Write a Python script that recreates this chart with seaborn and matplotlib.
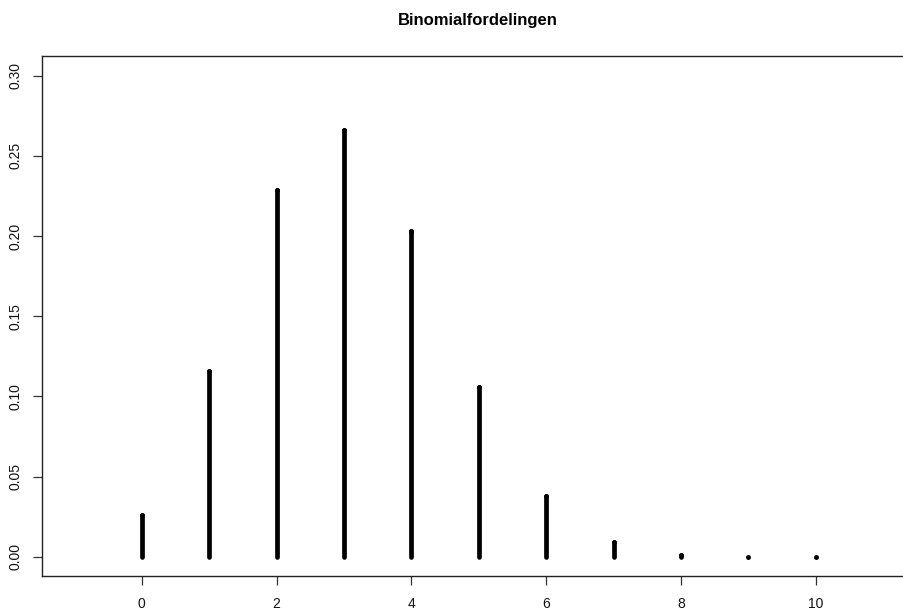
import matplotlib
matplotlib.use("Agg")
import matplotlib.pyplot as plt
import seaborn as sns
import pandas as pd

# Data
k_values = [0, 1, 2, 3, 4, 5, 6, 7, 8, 9, 10]
probabilities = [0.026, 0.116, 0.229, 0.266, 0.203, 0.106, 0.038, 0.009, 0.0014, 0.00014, 0.000006]
x_ticks = [0, 2, 4, 6, 8, 10]
y_ticks = [0.00, 0.05, 0.10, 0.15, 0.20, 0.25, 0.30]
y_tick_labels = ["0.00", "0.05", "0.10", "0.15", "0.20", "0.25", "0.30"]
title = "Binomialfordelingen"

sns.set_style("white")
plt.rcParams['font.family'] = ['Liberation Sans', 'DejaVu Sans']

rows = []
for k, p in zip(k_values, probabilities):
    rows.append({"k": k, "x": k, "y": 0.0})
    rows.append({"k": k, "x": k, "y": p})
df = pd.DataFrame(rows)
tops = pd.DataFrame({"x": k_values, "y": probabilities})

W, H = 904, 609
fig = plt.figure(figsize=(W / 100, H / 100), dpi=100)
left, right, top, bottom = 41.7, 915.5, 55.7, 576.0
ax = fig.add_axes([left / W, 1 - bottom / H, (right - left) / W, (bottom - top) / H])

lw = 3.4
sns.lineplot(data=df, x="x", y="y", units="k", estimator=None, sort=False,
             color="black", lw=lw, solid_capstyle="round", ax=ax, legend=False)
sns.scatterplot(data=tops, x="x", y="y", color="black", s=lw ** 2 * 1.1,
                marker="o", linewidth=0, ax=ax, legend=False, zorder=3)

ax.set_xlim(-1.484, 11.48)
ax.set_ylim(-0.012, 0.3125)
ax.set_xticks(x_ticks)
ax.set_xticklabels([str(t) for t in x_ticks])
ax.set_yticks(y_ticks)
ax.set_yticklabels(y_tick_labels)
ax.set_xlabel("")
ax.set_ylabel("")

for name, s in ax.spines.items():
    s.set_visible(name != "right")
    s.set_color("#222222")
    s.set_linewidth(1.0)

ax.tick_params(axis="both", which="major", direction="out", length=6.8, width=0.9,
               color="#333333", labelsize=10, labelcolor="#111111",
               bottom=True, left=True)
ax.tick_params(axis="x", pad=8)
ax.tick_params(axis="y", pad=7, labelrotation=90)
for lbl in ax.get_yticklabels():
    lbl.set_va("center")
    lbl.set_ha("right")

fig.text(478 / W, 1 - 21 / H, title, ha="center", va="center",
         fontsize=12, fontweight="bold", color="black")

fig.savefig("out.png", dpi=100)
